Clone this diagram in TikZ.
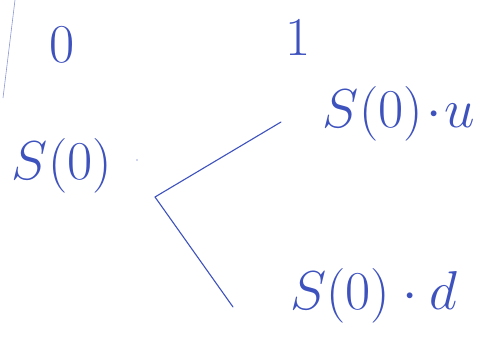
\documentclass[tikz,border=0pt]{standalone}
\usepackage{amsmath}
\usepackage{graphicx}

\definecolor{ink}{RGB}{62,82,190}
\newcommand{\hand}[1]{\scalebox{2.2}{\Huge$#1$}}

\begin{document}
\begin{tikzpicture}[x=1pt,y=-1pt,
    lbl/.style={text=ink,inner sep=0pt},
    stroke/.style={draw=ink,line width=1.1pt,line cap=round}]
    \useasboundingbox (0,0) rectangle (479,337);

    % time steps
    \node[lbl] (t0) at (62,45) {\hand{0}};
    \node[lbl] (t1) at (298,38) {\hand{1}};

    % prices
    \node[lbl] (s0) at (62,166) {\hand{S(0)}};
    \node[lbl,anchor=east] (su) at (475,114) {\hand{S(0)\!\cdot\! u}};
    \node[lbl,anchor=west] (sd) at (290,296) {\hand{S(0)\cdot d}};

    \coordinate (fork) at (155,197);
    \coordinate (uptip) at (281,122);
    \coordinate (downtip) at (233,307);
    \draw[stroke] (fork) -- (uptip);
    \draw[stroke] (fork) -- (downtip);

    % margin mark and stray dot
    \draw[ink!60,line width=0.6pt] (15,0) -- (3,98);
    \fill[ink!50] (137,160) circle (0.8);
\end{tikzpicture}
\end{document}
